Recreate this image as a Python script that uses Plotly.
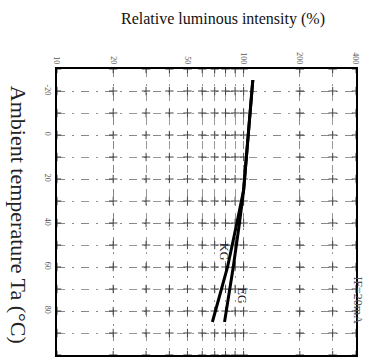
import plotly.graph_objects as go
import numpy as np

# Data
temp_kg = [-25, 0, 25, 40, 60, 85]
val_kg = [112, 106, 100, 92, 82, 68]
temp_eg = [-25, 0, 25, 40, 60, 85]
val_eg = [112, 106, 100, 95, 88, 79]

x_ticks = [10, 20, 50, 100, 200, 400]
x_minor = [30, 40, 60, 70, 80, 90, 300]
y_ticks = [-20, 0, 20, 40, 60, 80, 100]
y_minor = [-30, -10, 10, 30, 50, 70, 90]

fig = go.Figure()

# grid intersection crosses
gx = sorted(x_ticks + x_minor)
gy = sorted(y_ticks + y_minor)
cx = [a for a in gx for b in gy]
cy = [b for a in gx for b in gy]
fig.add_trace(go.Scatter(x=cx, y=cy, mode="markers",
                         marker=dict(symbol="cross-thin", size=6,
                                     line=dict(width=1, color="#444")),
                         hoverinfo="skip", showlegend=False))

fig.add_trace(go.Scatter(x=val_kg, y=temp_kg, mode="lines",
                         line=dict(color="black", width=3), showlegend=False))
fig.add_trace(go.Scatter(x=val_eg, y=temp_eg, mode="lines",
                         line=dict(color="black", width=3), showlegend=False))

serif = "Liberation Serif, DejaVu Serif, serif"
gdash = "8px,7px,2px,7px"

fig.update_layout(
    width=371, height=358,
    margin=dict(l=57, r=15, t=69, b=1),
    paper_bgcolor="white", plot_bgcolor="white",
    font=dict(family=serif, color="#222"),
    xaxis=dict(type="log", range=[1, np.log10(400)], side="top",
               tickvals=x_ticks, ticktext=[str(v) for v in x_ticks],
               tickangle=90, tickfont=dict(size=8, color="#555"),
               showgrid=True, gridcolor="#888", griddash=gdash, gridwidth=1,
               minor=dict(tickvals=x_minor, showgrid=True, gridcolor="#999",
                          griddash=gdash, gridwidth=1),
               showline=True, linecolor="black", linewidth=2, mirror=True,
               ticks="", zeroline=False),
    yaxis=dict(range=[100, -30],
               tickvals=y_ticks, ticktext=[str(v) for v in y_ticks],
               tickangle=90, tickfont=dict(size=8, color="#555"),
               showgrid=True, gridcolor="#888", griddash=gdash, gridwidth=1,
               minor=dict(tickvals=y_minor, showgrid=True, gridcolor="#999",
                          griddash=gdash, gridwidth=1),
               showline=True, linecolor="black", linewidth=2, mirror=True,
               ticks="", zeroline=False),
    annotations=[
        dict(text="Relative luminous intensity (%)", xref="paper", yref="paper",
             x=0.555, y=1.0, yshift=50, showarrow=False, xanchor="center", yanchor="middle",
             font=dict(size=16, family=serif, color="#111")),
        dict(text="Ambient temperature Ta (°C)", xref="paper", yref="paper",
             x=0, xshift=-39, y=0.49, showarrow=False, textangle=90,
             xanchor="center", yanchor="middle",
             font=dict(size=22, family=serif, color="#222")),
        dict(text="KG", x=np.log10(79), y=53, xref="x", yref="y", showarrow=False,
             textangle=90, font=dict(size=12, family=serif, color="#222")),
        dict(text="EG", x=np.log10(98), y=73, xref="x", yref="y", showarrow=False,
             textangle=90, font=dict(size=12, family=serif, color="#222")),
        dict(text="IF=20mA", xref="paper", yref="paper", x=1.0, xshift=11, y=0.1,
             showarrow=False, textangle=90, font=dict(size=12, family=serif, color="#555")),
    ],
)

fig.write_html("out.html")
